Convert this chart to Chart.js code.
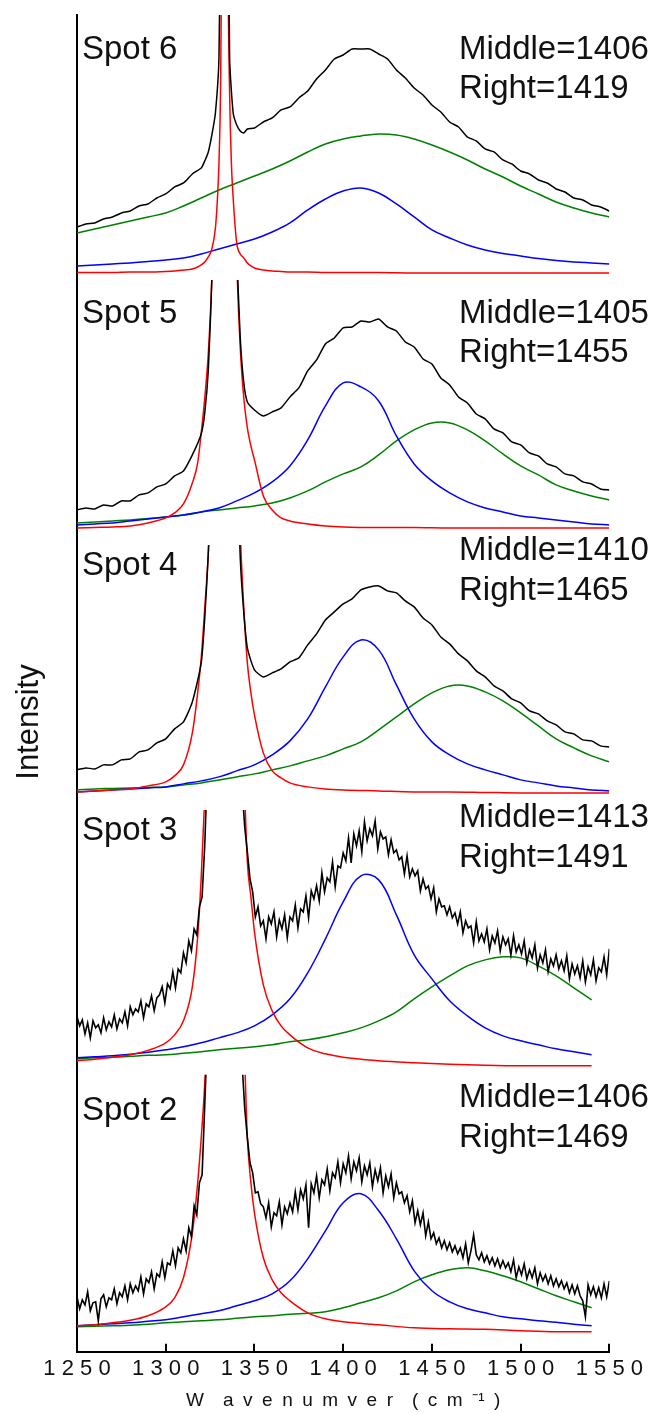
<!DOCTYPE html>
<html>
<head>
<meta charset="utf-8">
<script src="https://cdn.jsdelivr.net/npm/chart.js@4.4.0/dist/chart.umd.min.js"></script>
<style>
  html, body { margin: 0; padding: 0; background: #fff; }
  #wrap { width: 655px; height: 1414px; position: relative; }
</style>
</head>
<body>
<div id="wrap"><canvas id="chart"></canvas></div>
<script>
// panel labels (top to bottom)
const spotNames = ['Spot 6', 'Spot 5', 'Spot 4', 'Spot 3', 'Spot 2'];
const middlePeaks = [1406, 1405, 1410, 1413, 1406];
const rightPeaks = [1419, 1455, 1465, 1491, 1469];

const xTicks = [1250, 1300, 1350, 1400, 1450, 1500, 1550];

// wavenumber grids
const curveX = [1250,1260,1270,1280,1290,1300,1310,1320,1330,1340,1350,1360,1370,1380,1390,1400,
  1410,1420,1430,1440,1450,1460,1470,1480,1490,1500,1510,1520,1530,1540,1550];
const redX = [1250,1260,1270,1280,1290,1300,1305,1310,1315,1318,1320,1322,1324,1326,1328,1329,1330,
  1331,1332,1333,1334,1335,1336,1337,1338,1340,1342,1344,1346,1348,1350,1355,1360,1365,1370,1380,
  1390,1400,1420,1440,1460,1480,1500,1520,1540,1550];
const blackXs = [1250,1255,1260,1265,1270,1275,1280,1285,1290,1295,1300,1305,1310,1315,1320,
  1322,1324,1326,1328,1330,1332,1334,1336,1338,1340,1342,1344,1346,
  1350,1355,1360,1365,1370,1375,1380,1385,1390,1395,1400,1405,1410,1415,1420,1425,1430,1435,1440,
  1445,1450,1455,1460,1465,1470,1475,1480,1485,1490,1495,1500,1505,1510,1515,1520,1525,1530,1535,
  1540,1545,1550];
const blackXn = [
  1250,1251.5,1253,1254.5,1256,1257.5,1259,1260.5,1262,1263.5,1265,1266.5,1268,1269.5,1271,1272.5,1274,1275.5,1277,1278.5,
  1280,1281.5,1283,1284.5,1286,1287.5,1289,1290.5,1292,1293.5,1295,1296.5,1298,1299.5,1301,1302.5,1304,1305.5,1307,1308.5,
  1310,1311.5,1313,1314.5,1316,1317.5,1319,1320.5,1322,1323.5,1325,1326.5,1328,1329.5,1331,1332.5,1334,1335.5,1337,1338.5,
  1340,1341.5,1343,1344.5,1346,1347.5,1349,1350.5,1352,1353.5,1355,1356.5,1358,1359.5,1361,1362.5,1364,1365.5,1367,1368.5,
  1370,1371.5,1373,1374.5,1376,1377.5,1379,1380.5,1382,1383.5,1385,1386.5,1388,1389.5,1391,1392.5,1394,1395.5,1397,1398.5,
  1400,1401.5,1403,1404.5,1406,1407.5,1409,1410.5,1412,1413.5,1415,1416.5,1418,1419.5,1421,1422.5,1424,1425.5,1427,1428.5,
  1430,1431.5,1433,1434.5,1436,1437.5,1439,1440.5,1442,1443.5,1445,1446.5,1448,1449.5,1451,1452.5,1454,1455.5,1457,1458.5,
  1460,1461.5,1463,1464.5,1466,1467.5,1469,1470.5,1472,1473.5,1475,1476.5,1478,1479.5,1481,1482.5,1484,1485.5,1487,1488.5,
  1490,1491.5,1493,1494.5,1496,1497.5,1499,1500.5,1502,1503.5,1505,1506.5,1508,1509.5,1511,1512.5,1514,1515.5,1517,1518.5,
  1520,1521.5,1523,1524.5,1526,1527.5,1529,1530.5,1532,1533.5,1535,1536.5,1538,1539.5,1541,1542.5,1544,1545.5,1547,1548.5,
  1550];

// Spot 6
const black6 = [46,49,50,54,56,60,62,67,69,75,79,86,90,99,105,
  112,121,138,160,215,500,600,215,160,148,142,140,144,
  145,151,155,163,166,175,182,194,203,214,218,224,224,224,219,214,203,195,185,178,168,161,151,146,
  136,132,124,121,113,109,102,99,93,90,84,81,75,73,68,66,62];
const red6 = [0.5,0.5,0.5,1,1,1.5,2,3,4,6,8,11,16,24,45,70,110,200,450,900,700,320,180,110,75,30,19,
  15,10,7,5,3,2,1.5,1,1,0.5,0.5,0.5,0,0,0,0,0,0,0];
const blue6 = [7,8,9,10,11.5,13,15,19,24,29,34,41,50,63,74,82,85,80,69,56,43,35,28,23,19.5,17,14.5,
  12.5,11,10,9];
const green6 = [40,44,48,52,56,60,67,75,83,90,97,104,112,121,129,134,137,139,138,134,128,121,113,104,
  96,87,79,71,65,60,56];

// Spot 5
const black5 = [18,20,19,23,22,27,27,33,35,41,44,52,57,73,94,
  115,158,250,420,700,1200,1300,800,450,280,190,145,126,
  118,112,116,120,131,140,157,168,184,190,200,201,207,206,209,201,197,186,181,169,164,150,143,131,
  125,114,109,99,95,86,83,75,72,64,61,54,52,46,44,39,38];
const red5 = [0,0.5,1,2,5,10,15,24,45,65,95,130,175,250,400,500,700,900,1200,1400,1300,1000,800,600,
  450,270,180,130,100,82,68,32,18,10,7,4,2,1,0.5,0.5,0,0,0,0,0,0];
const blue5 = [3,4,5,7,9,11,13,16,20,27,35,46,62,88,122,145,141,127,92,64,47,35,26,20,16,12,10,8,6,4,3];
const green5 = [5,6,7,8,9.5,11,13,16,18,20,22,25,30,37,46,54,61,73,87,98,105,105,98,87,74,62,53,43,
  37,32,28];

// Spot 4
const black4 = [23,25,24,28,28,33,34,41,43,50,54,64,71,91,130,
  175,240,340,500,760,1150,1300,960,610,350,235,180,145,
  123,116,120,124,131,135,148,159,173,181,189,194,203,206,207,202,200,192,186,175,168,156,149,139,
  132,122,116,107,102,94,90,82,79,72,68,61,59,53,52,47,46];
const red4 = [1,2,3,4,7,11,17,28,60,100,135,185,240,330,480,600,750,950,1150,1300,1300,1150,950,750,
  600,380,260,185,130,100,78,40,22,15,10,6,4,3,2,1,1,0.5,0,0,0,0];
const blue4 = [1,2,3,4,5,6,9,12,16,22,28,38,52,74,106,136,153,143,108,74,51,38,29,23,18,13,10,7,5,3,2];
const green4 = [3,4,4.5,5,5.5,6,8,10,13,16,19,23,27,32,37,44,51,63,76,89,100,107,107,101,92,80,67,
  54,45,37,31];

// Spot 3 (noisy)
const black3 = [
  50,41,47,33,44,29,46,39,42,34,49,37,45,40,52,38,48,44,55,41,
  60,52,58,55,66,49,63,60,71,56,69,72,80,64,83,78,95,79,98,94,
  114,104,126,116,138,132,160,170,222,300,400,520,650,780,900,980,1000,900,800,650,
  500,380,280,240,215,188,175,150,160,141,146,128,150,143,155,130,147,138,152,129,
  150,146,162,139,158,155,171,149,176,168,181,166,194,175,189,185,205,180,201,199,
  214,206,229,204,233,221,236,215,245,226,238,231,246,218,235,228,230,212,227,214,
  217,207,210,193,211,190,198,191,196,176,188,178,181,168,179,155,168,160,161,152,
  160,149,154,143,155,134,146,139,141,124,145,126,133,125,138,117,131,124,136,116,
  130,122,128,112,131,115,122,113,126,104,117,109,122,99,112,104,117,95,108,101,
  112,98,106,96,111,88,103,93,101,89,106,85,100,92,107,86,99,95,110,92,
  118];
const red3 = [6,7.5,9.5,12,16.5,24,32,46,80,130,190,270,370,500,650,750,850,950,1050,1100,1100,1050,
  950,850,750,560,400,300,205,170,135,82,56,41,32,19,13,9.5,6,4,2.5,1.5,1,1,1];
const blue3 = [9,10,11,12.5,14.5,17,20,24,29,34,41,52,68,94,128,165,191,187,152,112,88,66,51,39,31,
  26,22,18,15,12];
const green3 = [8,9,9.5,10.5,11.5,12,13.5,15,17,18.5,20,22,25,27,30,34,39,46,55,68,80,91,101,107,110,
  109,101,91,79,67];

// Spot 2 (noisy)
const black2 = [
  36,24,33,28,41,22,30,31,12,34,38,26,35,33,44,29,40,36,47,33,
  49,40,47,42,56,39,54,50,61,44,59,56,71,55,70,68,82,67,85,80,
  94,82,105,96,127,118,150,158,228,300,400,520,650,780,900,950,950,900,800,650,
  450,350,270,225,195,170,160,140,141,129,126,115,130,106,120,117,131,108,126,119,
  130,121,141,123,143,134,148,105,149,140,157,135,153,148,164,142,160,155,171,150,
  169,160,177,154,171,162,175,151,167,158,170,146,163,152,165,140,157,146,159,135,
  150,139,141,130,137,121,132,110,122,108,120,97,111,94,100,89,95,85,92,83,
  90,81,87,79,85,75,89,70,82,98,78,73,80,71,77,69,75,67,74,65,
  72,65,70,61,73,55,66,58,69,54,63,55,65,49,60,52,58,49,57,47,
  54,46,52,44,50,40,48,39,47,37,32,16,48,38,46,36,45,35,49,36,
  52];
const red2 = [7,8,10,12.5,17,26,35,55,100,150,195,250,340,460,620,720,820,920,1000,1050,1050,1000,
  920,820,720,520,380,300,195,150,120,75,53,40,32,20,14,11,8,5,4,3.5,2,1,1];
const blue2 = [7,8,9,10,11.5,13,16,19,22,27,32,39,52,74,102,130,139,122,94,62,42,31,24,20,16,14,12,
  10.5,8.5,7];
const green2 = [6,6.5,7,7.5,8.5,10,11,12,13,14.5,16,17,18.5,19.5,21,25,30,35,42,51,58,63,65,62,57,51,
  44,37,31,25];

const xTitle = 'W\u2002\u2002a\u2002v\u2002e\u2002n\u2002u\u2002m\u2002v\u2002e\u2002r\u2002\u2002(\u2002c\u2002m\u2002\u207b\u00b9\u2002)';

// ---- layout (pixels) ----
const panelAxes = [
  { min: -7, max: 258, weight: 265 },
  { min: -17, max: 248, weight: 265 },
  { min: -17, max: 248, weight: 265 },
  { min: -8, max: 257, weight: 265 },
  { min: -19, max: 258, weight: 277 }
];
const labelOffsets = [[44, 44, 83], [43, 43, 82], [30, 15, 55], [30, 17, 57], [45, 32, 72]];

const FONT = '"Liberation Sans", Arial, sans-serif';
Chart.defaults.font.family = FONT;

const panelSeries = [
  { blackX: blackXs, black: black6, red: red6, blue: blue6, green: green6 },
  { blackX: blackXs, black: black5, red: red5, blue: blue5, green: green5 },
  { blackX: blackXs, black: black4, red: red4, blue: blue4, green: green4 },
  { blackX: blackXn, black: black3, red: red3, blue: blue3, green: green3 },
  { blackX: blackXn, black: black2, red: red2, blue: blue2, green: green2 }
];

function pts(xs, ys) {
  return ys.map((y, i) => ({ x: xs[i], y: y }));
}

const datasets = [];
panelSeries.forEach((s, i) => {
  const axis = 'y' + i;
  const noisy = s.blackX === blackXn;
  datasets.push({ data: pts(s.blackX, s.black), yAxisID: axis, borderColor: '#000', borderWidth: noisy ? 1.6 : 1.5, tension: noisy ? 0 : 0.2 });
  datasets.push({ data: pts(redX, s.red), yAxisID: axis, borderColor: '#ff0000', borderWidth: 1.5, cubicInterpolationMode: 'monotone' });
  datasets.push({ data: pts(curveX, s.blue), yAxisID: axis, borderColor: '#0000ff', borderWidth: 1.5, tension: 0.4 });
  datasets.push({ data: pts(curveX, s.green), yAxisID: axis, borderColor: '#008000', borderWidth: 1.5, tension: 0.4 });
});

const scales = {
  x: {
    type: 'linear',
    position: 'bottom',
    min: 1250,
    max: 1550,
    afterBuildTicks: (scale) => { scale.ticks = xTicks.map(v => ({ value: v })); },
    ticks: {
      autoSkip: false,
      maxRotation: 0,
      color: '#111',
      padding: 12,
      font: { size: 22 },
      callback: (v) => String(v).split('').join(' ')
    },
    grid: { drawOnChartArea: false, drawTicks: true, tickLength: -8, color: '#000', lineWidth: 2 },
    border: { color: '#000', width: 2 },
    title: { display: true, text: xTitle, color: '#111', font: { size: 19 }, padding: { top: -5, bottom: 0 } }
  }
};
// stacked y axes: last declared sits on top, so declare bottom panel first
for (let i = panelAxes.length - 1; i >= 0; i--) {
  const p = panelAxes[i];
  scales['y' + i] = {
    type: 'linear',
    position: 'left',
    stack: 'spots',
    stackWeight: p.weight,
    min: p.min,
    max: p.max,
    ticks: { display: false },
    grid: { display: false, drawTicks: false },
    border: { display: true, color: '#000', width: 2 }
  };
}

const panelText = {
  id: 'panelText',
  afterDatasetsDraw(chart) {
    const ctx = chart.ctx;
    const left = chart.chartArea.left;
    ctx.save();
    ctx.fillStyle = '#111';
    ctx.textAlign = 'left';
    ctx.textBaseline = 'alphabetic';
    ctx.font = '33px ' + FONT;
    spotNames.forEach((name, i) => {
      const top = chart.scales['y' + i].top;
      const off = labelOffsets[i];
      ctx.fillText(name, left + 5, top + off[0]);
      ctx.fillText('Middle=' + middlePeaks[i], 459, top + off[1]);
      ctx.fillText('Right=' + rightPeaks[i], 459, top + off[2]);
    });
    ctx.translate(29, 722);
    ctx.rotate(-Math.PI / 2);
    ctx.textAlign = 'center';
    ctx.textBaseline = 'middle';
    ctx.font = '31px ' + FONT;
    ctx.fillText('Intensity', 0, 0);
    ctx.restore();
  }
};

new Chart(document.getElementById('chart'), {
  type: 'line',
  data: { datasets: datasets },
  options: {
    responsive: true,
    maintainAspectRatio: false,
    animation: false,
    layout: { padding: { left: 77, right: 42, top: 15, bottom: 2 } },
    elements: { point: { radius: 0 }, line: { fill: false } },
    plugins: { legend: { display: false }, tooltip: { enabled: false } },
    scales: scales
  },
  plugins: [panelText]
});
</script>
</body>
</html>
